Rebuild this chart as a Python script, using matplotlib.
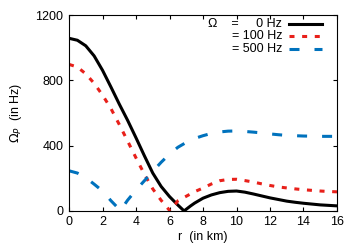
import matplotlib
matplotlib.use("Agg")
import matplotlib.pyplot as plt

plt.rcParams['font.family'] = ['Liberation Sans', 'DejaVu Sans']
plt.rcParams['font.size'] = 9
plt.rcParams['lines.scale_dashes'] = False

# valores (r en km, Omega_P en Hz)
r_black = [0, 0.5, 1.0, 1.5, 2.0, 2.5, 3.0, 3.5, 4.0, 4.5, 5.0, 5.5, 6.0, 6.5, 6.87,
           7.25, 7.5, 8.0, 8.5, 9.0, 9.5, 10.0, 10.5, 11.0, 11.5, 12.0, 12.5, 13.0,
           13.5, 14.0, 14.5, 15.0, 15.5, 16.0]
om_black = [1058, 1046, 1012, 950, 862, 760, 655, 555, 448, 338, 232, 150, 88, 36, 0,
            30, 48, 78, 98, 112, 120, 122, 115, 104, 92, 80, 70, 60,
            53, 47, 42, 37, 34, 31]

r_red = [0, 0.5, 1.0, 1.5, 2.0, 2.5, 3.0, 3.5, 4.0, 4.5, 5.0, 5.5, 6.03, 6.5, 7.0,
         7.5, 8.0, 8.5, 9.0, 9.5, 10.0, 10.5, 11.0, 11.5, 12.0, 12.5, 13.0, 13.5,
         14.0, 14.5, 15.0, 15.5, 16.0]
om_red = [898, 882, 840, 782, 710, 628, 530, 428, 325, 225, 135, 65, 0, 62, 90,
          118, 140, 165, 185, 193, 194, 186, 177, 166, 156, 147, 141, 135,
          130, 126, 122, 119, 117]

r_blue = [0, 0.5, 1.0, 1.5, 2.0, 2.5, 2.85, 3.05, 3.5, 4.0, 4.5, 5.0, 5.5, 6.0, 6.5,
          7.0, 7.5, 8.0, 8.5, 9.0, 9.5, 10.0, 10.5, 11.0, 11.5, 12.0, 12.5, 13.0,
          13.5, 14.0, 15.0, 16.0]
om_blue = [246, 232, 204, 164, 122, 63, 26, 0, 66, 128, 185, 242, 298, 348, 390,
           420, 444, 461, 475, 484, 489, 490, 487, 483, 478, 472, 467, 463,
           461, 459, 457, 457]

labels = ["\u03a9    =     0 Hz", "= 100 Hz", "= 500 Hz"]
colors = ["black", "#e8201a", "#0072bd"]
dash_styles = [None, (3.6, 5.5), (7.2, 10.8)]

fig = plt.figure(figsize=(3.6, 2.52), dpi=100)
ax = fig.add_axes([0.1917, 0.163, 0.7444, 0.777])

series = [(r_black, om_black), (r_red, om_red), (r_blue, om_blue)]
for (rr, om), c, d in zip(series, colors, dash_styles):
    kw = {} if d is None else {"dashes": d}
    ax.plot(rr, om, color=c, lw=2.2, **kw)

ax.set_xlim(0, 16)
ax.set_ylim(0, 1200)
ax.set_xticks(range(0, 17, 2))
ax.set_yticks([0, 400, 800, 1200])
ax.tick_params(direction='in', top=True, right=True, length=3, width=0.8, pad=4)
for s in ax.spines.values():
    s.set_linewidth(0.8)

ax.set_xlabel("r  (in km)", labelpad=2)
ax.set_ylabel(r"$\Omega_P$  (in Hz)", labelpad=8)

# leyenda estilo gnuplot: texto alineado a la derecha, linea a la derecha
rows = [0.954, 0.893, 0.827]
for lab, c, d, y in zip(labels, colors, dash_styles, rows):
    ax.text(0.795, y, lab, transform=ax.transAxes, ha='right', va='center')
    kw = {} if d is None else {"dashes": d}
    ax.plot([0.821, 0.944], [y, y], transform=ax.transAxes, color=c,
            lw=2.2, clip_on=False, **kw)

fig.savefig("out.png", dpi=100)
